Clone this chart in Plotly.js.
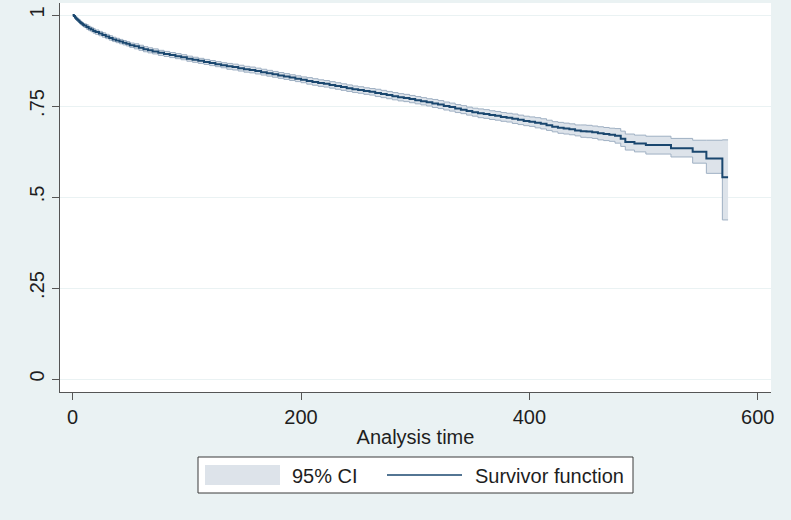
<!DOCTYPE html>
<html>
<head>
<meta charset="utf-8">
<script src="https://cdn.plot.ly/plotly-3.0.1.min.js"></script>
<style>
  html, body { margin: 0; padding: 0; background: #eaf2f3; }
  #chart { width: 791px; height: 520px; }
</style>
</head>
<body>
<div id="chart"></div>
<script>
// Kaplan-Meier survivor function with 95% confidence band
const analysisTime = [0, 1, 2, 3, 4, 5, 6, 7, 8, 9, 10, 12, 14, 16, 18, 20, 23, 26, 29, 32,
  35, 38, 41, 44, 47, 50, 54, 58, 62, 66, 70, 75, 80, 85, 90, 95, 100, 105, 110, 115, 120,
  125, 130, 135, 140, 145, 150, 155, 160, 165, 170, 175, 180, 185, 190, 195, 200, 205, 210,
  215, 220, 225, 230, 235, 240, 245, 250, 255, 260, 265, 270, 275, 280, 285, 290, 295, 300,
  305, 310, 315, 320, 325, 330, 335, 340, 345, 350, 355, 360, 365, 370, 375, 380, 385, 390,
  395, 400, 405, 410, 415, 420, 425, 430, 435, 440, 445, 450, 455, 460, 465, 470, 475, 480,
  484, 492, 502, 524, 543, 555, 569, 574];

const survivor = [1, .997, .993, .990, .987, .984, .981, .978, .976, .973, .971, .967, .963,
  .960, .956, .953, .949, .945, .941, .937, .933, .930, .927, .924, .921, .917, .914, .910,
  .906, .903, .900, .896, .893, .890, .887, .884, .880, .877, .874, .871, .868, .865, .862,
  .859, .857, .854, .851, .849, .846, .843, .840, .837, .834, .831, .828, .825, .822, .819,
  .816, .813, .811, .808, .805, .802, .799, .796, .794, .791, .789, .786, .783, .780, .777,
  .774, .772, .769, .766, .763, .760, .757, .754, .750, .747, .743, .740, .736, .733, .730,
  .728, .725, .723, .720, .718, .715, .712, .709, .707, .704, .701, .697, .693, .690, .688,
  .686, .683, .681, .680, .678, .675, .673, .671, .668, .660, .651, .647, .643, .634, .624,
  .606, .554, .554];

const ciLower = [1, .995, .990, .986, .983, .980, .976, .973, .971, .968, .966, .961, .957,
  .954, .950, .947, .943, .939, .935, .931, .927, .924, .921, .918, .915, .911, .907, .903,
  .899, .896, .893, .889, .886, .883, .880, .877, .873, .870, .867, .864, .861, .858, .855,
  .851, .849, .846, .843, .841, .838, .835, .832, .829, .826, .823, .820, .817, .814, .810,
  .807, .804, .802, .799, .796, .793, .790, .787, .785, .782, .780, .776, .773, .770, .767,
  .764, .762, .759, .756, .753, .750, .746, .743, .739, .736, .732, .729, .725, .722, .718,
  .716, .713, .711, .708, .706, .702, .699, .696, .694, .690, .687, .683, .679, .675, .673,
  .671, .668, .664, .663, .661, .657, .655, .653, .648, .639, .629, .624, .618, .610, .593,
  .565, .437, .437];

const ciUpper = [1, .999, .996, .994, .991, .988, .986, .983, .981, .978, .976, .973, .969,
  .966, .962, .959, .955, .951, .947, .943, .939, .936, .933, .930, .927, .923, .921, .917,
  .913, .910, .907, .903, .900, .897, .894, .891, .887, .884, .881, .878, .875, .872, .869,
  .867, .865, .862, .859, .857, .854, .851, .848, .845, .842, .839, .836, .833, .830, .828,
  .825, .822, .820, .817, .814, .811, .808, .805, .803, .800, .798, .796, .793, .790, .787,
  .784, .782, .779, .776, .773, .770, .768, .765, .761, .758, .754, .751, .747, .744, .742,
  .740, .737, .735, .732, .730, .728, .725, .722, .720, .718, .715, .711, .707, .705, .703,
  .701, .698, .698, .697, .695, .693, .691, .689, .688, .681, .673, .670, .667, .661, .656,
  .656, .657, .657];

const yTickVals = [0, .25, .5, .75, 1];
const yTickText = ['0', '.25', '.5', '.75', '1'];
const xTickVals = [0, 200, 400, 600];
const xTickText = ['0', '200', '400', '600'];

const legendLabels = ['95% CI', 'Survivor function'];

const NAVY = '#1a476f';
const BAND_FILL = '#dde3ea';
const BAND_EDGE = '#9fb0c3';
const BG = '#eaf2f3';
const INK = '#1e1e1e';
const AXIS = '#555555';
const FONT = 'Liberation Sans, Arial, Helvetica, sans-serif';

const W = 791, H = 520;
const M = { l: 60, r: 20, t: 3, b: 128 };
const plotW = W - M.l - M.r;
const plotH = H - M.t - M.b;
// convert page pixel positions into paper coordinates for the hand-built legend
const px = x => (x - M.l) / plotW;
const py = y => (H - M.b - y) / plotH;

const traces = [
  {
    x: analysisTime, y: ciUpper, type: 'scatter', mode: 'lines',
    line: { color: BAND_EDGE, width: 1, shape: 'hv' },
    hoverinfo: 'skip', showlegend: false
  },
  {
    x: analysisTime, y: ciLower, type: 'scatter', mode: 'lines',
    line: { color: BAND_EDGE, width: 1, shape: 'hv' },
    fill: 'tonexty', fillcolor: BAND_FILL,
    name: legendLabels[0], showlegend: false
  },
  {
    x: analysisTime, y: survivor, type: 'scatter', mode: 'lines',
    line: { color: NAVY, width: 2, shape: 'hv' },
    name: legendLabels[1], showlegend: false
  }
];

const shapes = [
  // legend frame
  { type: 'rect', xref: 'paper', yref: 'paper',
    x0: px(198), x1: px(633), y0: py(493), y1: py(457),
    fillcolor: '#ffffff', line: { color: '#3a3a3a', width: 1 } },
  // band swatch
  { type: 'rect', xref: 'paper', yref: 'paper',
    x0: px(205), x1: px(280), y0: py(485), y1: py(465),
    fillcolor: BAND_FILL, line: { width: 0 } },
  // line swatch
  { type: 'line', xref: 'paper', yref: 'paper',
    x0: px(387), x1: px(462), y0: py(475), y1: py(475),
    line: { color: NAVY, width: 1.5 } }
];

const annotations = [
  { text: legendLabels[0], xref: 'paper', yref: 'paper', x: px(290), y: py(476),
    xanchor: 'left', yanchor: 'middle', showarrow: false,
    font: { family: FONT, size: 20, color: INK } },
  { text: legendLabels[1], xref: 'paper', yref: 'paper', x: px(473), y: py(476),
    xanchor: 'left', yanchor: 'middle', showarrow: false,
    font: { family: FONT, size: 20, color: INK } }
];

const layout = {
  width: W, height: H,
  margin: M,
  paper_bgcolor: BG,
  plot_bgcolor: '#ffffff',
  font: { family: FONT, size: 20, color: INK },
  showlegend: false,
  xaxis: {
    range: [-11.1, 611.6],
    tickvals: xTickVals, ticktext: xTickText,
    ticks: 'outside', ticklen: 7, tickwidth: 1, tickcolor: AXIS,
    showline: true, linecolor: AXIS, linewidth: 1,
    showgrid: false, zeroline: false,
    tickfont: { family: FONT, size: 20, color: INK },
    title: { text: 'Analysis time', standoff: 2, font: { family: FONT, size: 20, color: INK } },
    automargin: false
  },
  yaxis: {
    range: [-0.0357, 1.033],
    tickvals: yTickVals, ticktext: yTickText, tickangle: -90,
    ticks: 'outside', ticklen: 7, tickwidth: 1, tickcolor: AXIS,
    showline: true, linecolor: AXIS, linewidth: 1,
    showgrid: true, gridcolor: BG, gridwidth: 1,
    zeroline: false,
    tickfont: { family: FONT, size: 20, color: INK },
    automargin: false
  },
  shapes: shapes,
  annotations: annotations
};

Plotly.newPlot('chart', traces, layout, { displayModeBar: false, staticPlot: true });
</script>
</body>
</html>
